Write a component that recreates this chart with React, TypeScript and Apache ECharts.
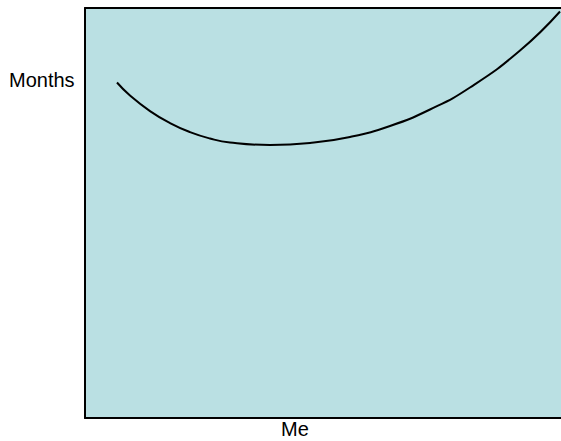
import React, { useEffect, useRef } from "react";
import * as echarts from "echarts";

const meValues = [6.72, 9.45, 13.66, 17.86, 22.06, 26.26, 30.46, 38.87, 47.27, 55.67, 64.08, 72.48, 80.88, 91.39, 99.79];
const monthsValues = [81.83, 78.66, 74.85, 71.93, 69.73, 68.17, 67.2, 66.59, 67.07, 68.54, 71.22, 75.24, 80.61, 89.63, 99.15];
const xAxisName = "Me";
const yAxisName = "Months";

export default function App() {
  const ref = useRef<HTMLDivElement>(null);
  useEffect(() => {
    if (!ref.current) return;
    const chart = echarts.init(ref.current, undefined, { renderer: "svg" });
    const data = meValues.map((x, i) => [x, monthsValues[i]]);
    const hiddenAxis = {
      type: "value",
      min: 0,
      max: 100,
      axisTick: { show: false },
      axisLabel: { show: false },
      splitLine: { show: false },
    };
    chart.setOption({
      animation: false,
      backgroundColor: "#ffffff",
      grid: {
        left: 85,
        top: 8,
        right: 0,
        bottom: 23,
        show: true,
        backgroundColor: "#bae0e3",
        borderWidth: 0,
      },
      xAxis: [
        {
          ...hiddenAxis,
          position: "bottom",
          axisLine: { show: true, onZero: false, lineStyle: { color: "#000000", width: 2 } },
        },
        {
          ...hiddenAxis,
          position: "top",
          axisLine: { show: true, onZero: false, lineStyle: { color: "#000000", width: 2 } },
        },
      ],
      yAxis: {
        ...hiddenAxis,
        position: "left",
        axisLine: { show: true, onZero: false, lineStyle: { color: "#000000", width: 2 } },
      },
      graphic: [
        {
          type: "text",
          left: 9,
          top: 70,
          style: {
            text: yAxisName,
            fill: "#000000",
            font: '20px "Liberation Sans", Arial, sans-serif',
          },
        },
        {
          type: "text",
          left: 281,
          top: 419,
          style: {
            text: xAxisName,
            fill: "#000000",
            font: '20px "Liberation Sans", Arial, sans-serif',
          },
        },
      ],
      series: [
        {
          type: "line",
          data,
          smooth: 0.5,
          showSymbol: false,
          lineStyle: { color: "#000000", width: 2 },
          clip: true,
        },
      ],
    });
    return () => chart.dispose();
  }, []);
  return (
    <div
      ref={ref}
      style={{ position: "fixed", left: 0, top: 0, width: 561, height: 441 }}
    />
  );
}
